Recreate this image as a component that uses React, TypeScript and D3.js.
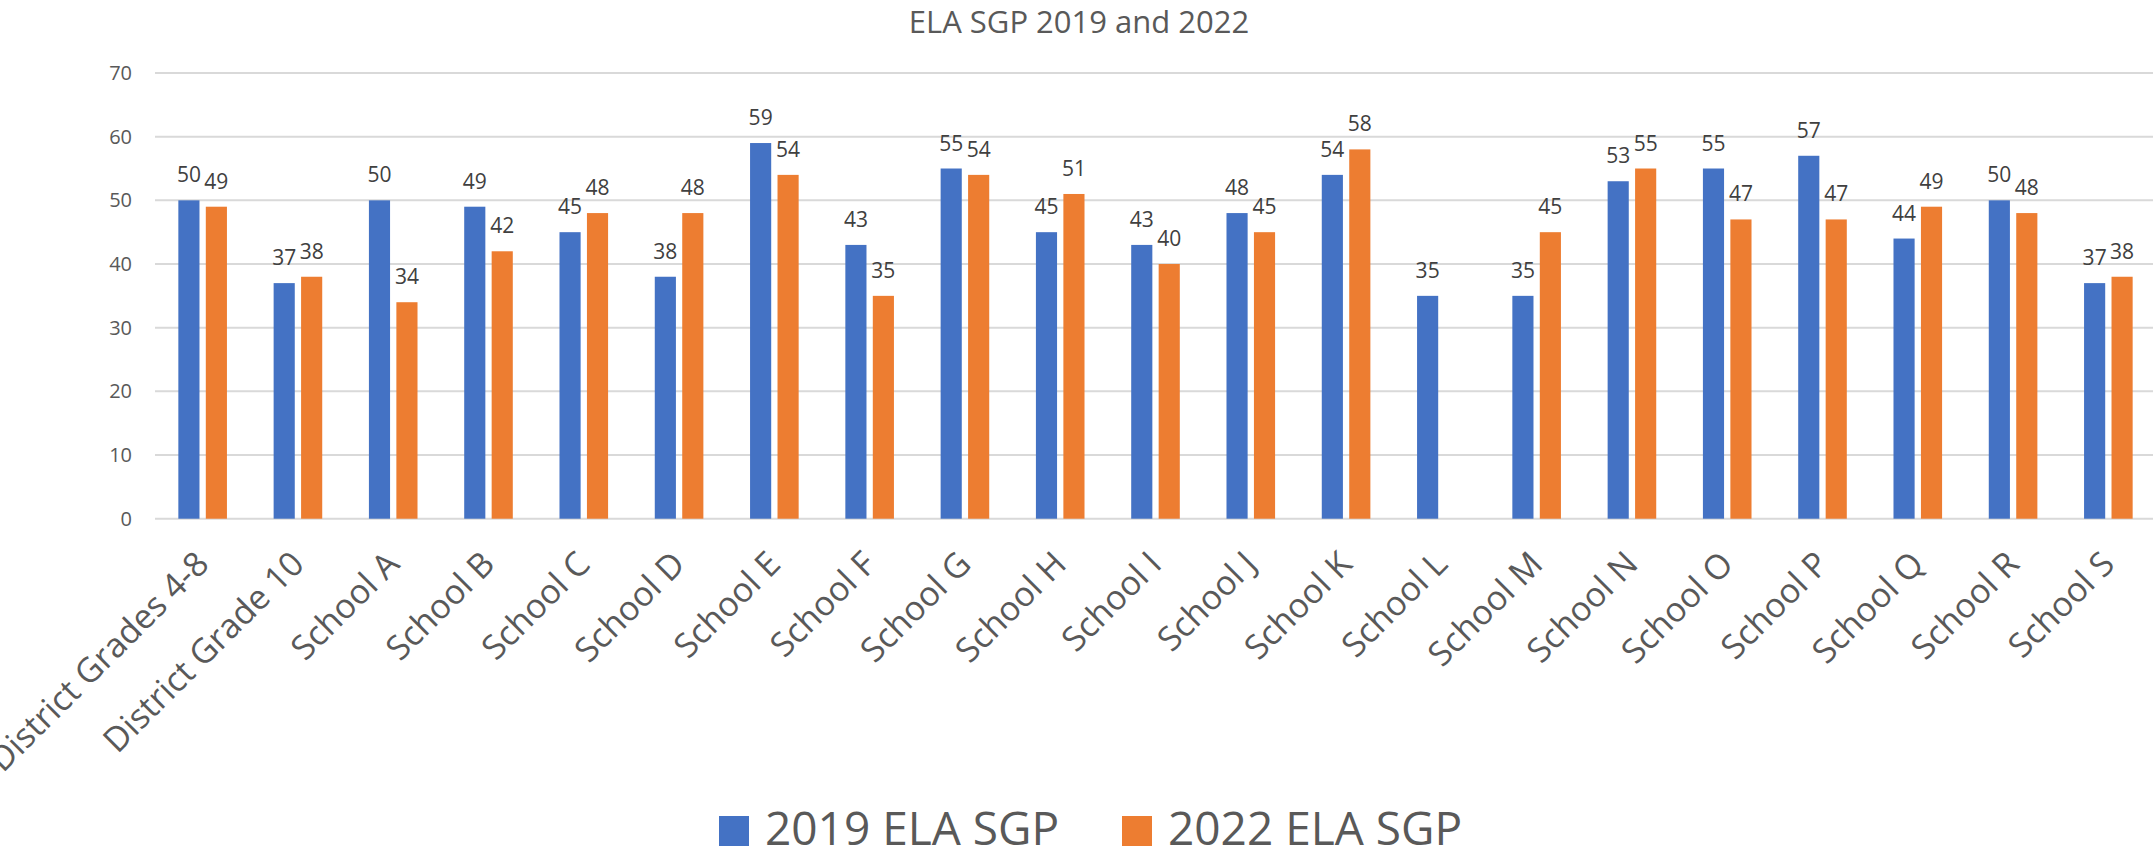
import React from "react";
import * as d3 from "d3";

const categories = [
  "District Grades 4-8",
  "District Grade 10",
  "School A",
  "School B",
  "School C",
  "School D",
  "School E",
  "School F",
  "School G",
  "School H",
  "School I",
  "School J",
  "School K",
  "School L",
  "School M",
  "School N",
  "School O",
  "School P",
  "School Q",
  "School R",
  "School S",
];
const sgp2019: (number | null)[] = [50, 37, 50, 49, 45, 38, 59, 43, 55, 45, 43, 48, 54, 35, 35, 53, 55, 57, 44, 50, 37];
const sgp2022: (number | null)[] = [49, 38, 34, 42, 48, 48, 54, 35, 54, 51, 40, 45, 58, null, 45, 55, 47, 47, 49, 48, 38];
const seriesNames = ["2019 ELA SGP", "2022 ELA SGP"];
const seriesColors = ["#4472C4", "#ED7D31"];
const yTicks = [0, 10, 20, 30, 40, 50, 60, 70];
const title = "ELA SGP 2019 and 2022";

const W = 2153;
const H = 852;
const FONT = "'Open Sans', 'Noto Sans', sans-serif";

export default function App() {
  const series = [sgp2019, sgp2022];
  const x0 = d3
    .scaleBand<string>()
    .domain(categories)
    .range([155, 2156])
    .paddingInner(0.49)
    .paddingOuter(0.245);
  const x1 = d3
    .scaleBand<string>()
    .domain(seriesNames)
    .range([0, x0.bandwidth()])
    .paddingInner(0.23);
  const y = d3.scaleLinear().domain([0, 70]).range([518.7, 73]);

  return (
    <svg
      width={W}
      height={H}
      style={{ position: "absolute", left: 0, top: 0, background: "#fff" }}
      fontFamily={FONT}
    >
      <text x={1079} y={33} textAnchor="middle" fontSize={31} fill="#595959">
        {title}
      </text>
      {yTicks.map((t) => (
        <g key={t}>
          <line x1={155} x2={2156} y1={y(t)} y2={y(t)} stroke="#D9D9D9" strokeWidth={2} />
          <text x={132} y={y(t)} dy="0.35em" textAnchor="end" fontSize={20} fill="#595959">
            {t}
          </text>
        </g>
      ))}
      {categories.map((c, i) => (
        <g key={c} transform={`translate(${x0(c)},0)`}>
          {series.map((s, k) => {
            const v = s[i];
            if (v == null) return null;
            const bx = x1(seriesNames[k])!;
            return (
              <g key={k}>
                <rect
                  x={bx}
                  y={y(v)}
                  width={x1.bandwidth()}
                  height={y(0) - y(v)}
                  fill={seriesColors[k]}
                />
                <text
                  x={bx + x1.bandwidth() / 2}
                  y={y(v) - 18}
                  textAnchor="middle"
                  fontSize={21}
                  fill="#404040"
                >
                  {v}
                </text>
              </g>
            );
          })}
        </g>
      ))}
      {categories.map((c) => {
        const cx = x0(c)! + x0.bandwidth() / 2 + 8;
        const cy = 566;
        return (
          <text
            key={c}
            transform={`translate(${cx},${cy}) rotate(-45)`}
            textAnchor="end"
            fontSize={34}
            fill="#595959"
          >
            {c}
          </text>
        );
      })}
      {seriesNames.map((n, k) => {
        const lx = k === 0 ? 719 : 1122;
        return (
          <g key={n}>
            <rect x={lx} y={816} width={30} height={30} fill={seriesColors[k]} />
            <text x={lx + 46} y={845} fontSize={46} fill="#595959">
              {n}
            </text>
          </g>
        );
      })}
    </svg>
  );
}
